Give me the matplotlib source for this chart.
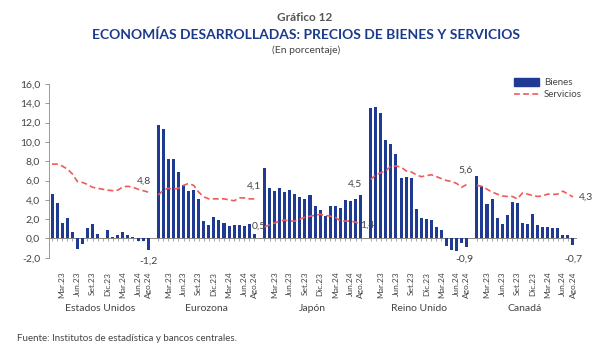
import numpy as np
import matplotlib
matplotlib.use('Agg')
import matplotlib.pyplot as plt
from matplotlib.patches import Patch
from matplotlib.lines import Line2D

plt.rcParams['font.family'] = ['Lato', 'DejaVu Sans']

# datos (ene.23 - ago.24)
paises = ['Estados Unidos', 'Eurozona', 'Japón', 'Reino Unido', 'Canadá']
meses_lbl = ['Mar.23', 'Jun.23', 'Set.23', 'Dic.23', 'Mar.24', 'Jun.24', 'Ago.24']
meses_idx = [2, 5, 8, 11, 14, 17, 19]

us_bienes = [4.6, 3.7, 1.6, 2.1, 0.7, -1.1, -0.6, 1.1, 1.5, 0.45, 0.05, 0.85, 0.15, 0.35, 0.65, 0.4, 0.1, -0.25, -0.3, -1.2]
us_serv = [7.7, 7.7, 7.5, 7.2, 6.7, 5.9, 5.8, 5.6, 5.3, 5.2, 5.1, 5.0, 4.95, 5.0, 5.35, 5.4, 5.3, 5.1, 4.95, 4.8]
ez_bienes = [11.8, 11.3, 8.2, 8.2, 6.9, 5.5, 4.9, 5.0, 4.1, 1.8, 1.4, 2.2, 1.9, 1.6, 1.3, 1.35, 1.35, 1.3, 1.5, 0.5]
ez_serv = [4.5, 5.0, 5.2, 5.1, 5.2, 5.5, 5.7, 5.5, 4.8, 4.3, 4.1, 4.1, 4.1, 4.1, 4.0, 3.9, 4.2, 4.2, 4.1, 4.1]
jp_bienes = [7.3, 5.2, 4.9, 5.2, 4.8, 5.0, 4.6, 4.3, 4.1, 4.5, 3.4, 2.9, 2.3, 3.4, 3.4, 3.2, 4.0, 3.9, 4.1, 4.5]
jp_serv = [1.2, 1.4, 1.6, 1.8, 1.9, 1.8, 1.8, 2.0, 2.2, 2.3, 2.4, 2.5, 2.4, 2.3, 2.2, 1.8, 1.8, 1.8, 1.7, 1.4]
uk_bienes = [13.5, 13.6, 12.95, 10.2, 9.8, 8.7, 6.3, 6.4, 6.3, 3.0, 2.1, 2.0, 1.9, 1.15, 0.9, -0.75, -1.2, -1.35, -0.5, -0.9]
uk_serv = [6.1, 6.6, 6.8, 7.0, 7.5, 7.5, 7.4, 7.0, 6.9, 6.6, 6.4, 6.5, 6.6, 6.4, 6.2, 6.0, 5.9, 5.7, 5.3, 5.6]
ca_bienes = [6.5, 5.4, 3.6, 4.1, 2.1, 1.5, 2.4, 3.8, 3.65, 1.6, 1.45, 2.5, 1.35, 1.2, 1.15, 1.1, 1.1, 0.4, 0.35, -0.7]
ca_serv = [5.5, 5.4, 5.1, 4.8, 4.6, 4.4, 4.35, 4.35, 4.1, 4.7, 4.6, 4.45, 4.35, 4.4, 4.6, 4.55, 4.6, 4.9, 4.6, 4.3]

bienes = [us_bienes, ez_bienes, jp_bienes, uk_bienes, ca_bienes]
servicios = [us_serv, ez_serv, jp_serv, uk_serv, ca_serv]

AZUL = '#1f3a93'
ROJO = '#f05a5a'
GRIS = '#444444'
PASO = 21  # 20 meses + 1 espacio

fig = plt.figure(figsize=(6, 3.56), dpi=100)
ax = fig.add_axes([0.0817, 0.276, 0.88, 0.488])

for g, (b, s) in enumerate(zip(bienes, servicios)):
    x = np.arange(len(b)) + g * PASO
    ax.bar(x, b, width=0.6, color=AZUL, zorder=2)
    ax.plot(x, s, color=ROJO, lw=1.2, ls=(0, (3.5, 2)), zorder=3)

# etiquetas de datos
def etq(x, y, txt, dx=0, dy=0, ha='center', va='center'):
    ax.annotate(txt, (x, y), xytext=(dx, dy), textcoords='offset points',
                ha=ha, va=va, fontsize=7.5, color=GRIS, zorder=4)

fmt = lambda v: f'{v:.1f}'.replace('.', ',')
last = 19
etq(last, us_serv[-1], fmt(us_serv[-1]), dx=-3, dy=8)
etq(last, us_bienes[-1], fmt(us_bienes[-1]), dy=-8)
etq(PASO + last, ez_serv[-1], fmt(ez_serv[-1]), dy=9)
etq(PASO + last, ez_bienes[-1], fmt(ez_bienes[-1]), dx=3, dy=5)
etq(2 * PASO + last, jp_bienes[-1], fmt(jp_bienes[-1]), dx=-4, dy=8)
etq(2 * PASO + last, jp_serv[-1], fmt(jp_serv[-1]), dx=5, dy=0)
etq(3 * PASO + last, uk_serv[-1], fmt(uk_serv[-1]), dx=-1, dy=10)
etq(3 * PASO + last, uk_bienes[-1], fmt(uk_bienes[-1]), dx=-2, dy=-9)
etq(4 * PASO + last, ca_serv[-1], fmt(ca_serv[-1]), dx=4, ha='left')
etq(4 * PASO + last, ca_bienes[-1], fmt(ca_bienes[-1]), dy=-10)

# ejes
ax.set_xlim(-0.6, 4 * PASO + 19.8)
ax.set_ylim(-2, 16)
ax.set_yticks(np.arange(-2, 17, 2))
ax.set_yticklabels([fmt(v) for v in np.arange(-2, 17, 2)])
ax.tick_params(axis='y', labelsize=7.5, labelcolor=GRIS, length=3, color='#888888', width=0.6)
for sp in ['top', 'right', 'bottom']:
    ax.spines[sp].set_visible(False)
ax.spines['left'].set_color('#888888')
ax.spines['left'].set_linewidth(0.6)

pos = [g * PASO + m for g in range(len(paises)) for m in meses_idx]
lbl = meses_lbl * len(paises)
ax.set_xticks(pos)
ax.set_xticklabels(lbl, rotation=90, fontsize=6, color=GRIS)
ax.tick_params(axis='x', length=0, pad=10)

# línea del cero con marcas por mes
ax.axhline(0, color='#888888', lw=0.7, zorder=1)
sec = ax.secondary_xaxis(2 / 18)
sec.set_xticks([g * PASO + m for g in range(len(paises)) for m in range(20)])
sec.set_xticklabels([])
sec.tick_params(length=2.5, width=0.5, color='#888888')
sec.spines['bottom'].set_visible(False)

for g, p in enumerate(paises):
    ax.text(g * PASO + 9.5, -0.29, p, transform=ax.get_xaxis_transform(),
            ha='center', va='center', fontsize=7.5, color=GRIS)

# leyenda
h = [Patch(color=AZUL, label='Bienes'),
     Line2D([], [], color=ROJO, lw=1.2, ls=(0, (3.5, 2)), label='Servicios')]
fig.legend(handles=h, loc='upper left', bbox_to_anchor=(0.842, 0.805), frameon=False,
           fontsize=7, handlelength=2.6, handleheight=0.8, labelspacing=0.3,
           handletextpad=0.5, labelcolor=GRIS)

# títulos
fig.text(0.507, 0.952, 'Gráfico 12', ha='center', va='center', fontsize=8.5,
         fontweight='bold', color='#555555')
fig.text(0.51, 0.902, 'ECONOMÍAS DESARROLLADAS: PRECIOS DE BIENES Y SERVICIOS',
         ha='center', va='center', fontsize=10, fontweight='bold', color='#1a3a8c')
fig.text(0.51, 0.86, '(En porcentaje)', ha='center', va='center', fontsize=7.5, color=GRIS)
fig.text(0.028, 0.05, 'Fuente: Institutos de estadística y bancos centrales.',
         ha='left', va='center', fontsize=7, color=GRIS)

fig.savefig('out.png', dpi=100)
